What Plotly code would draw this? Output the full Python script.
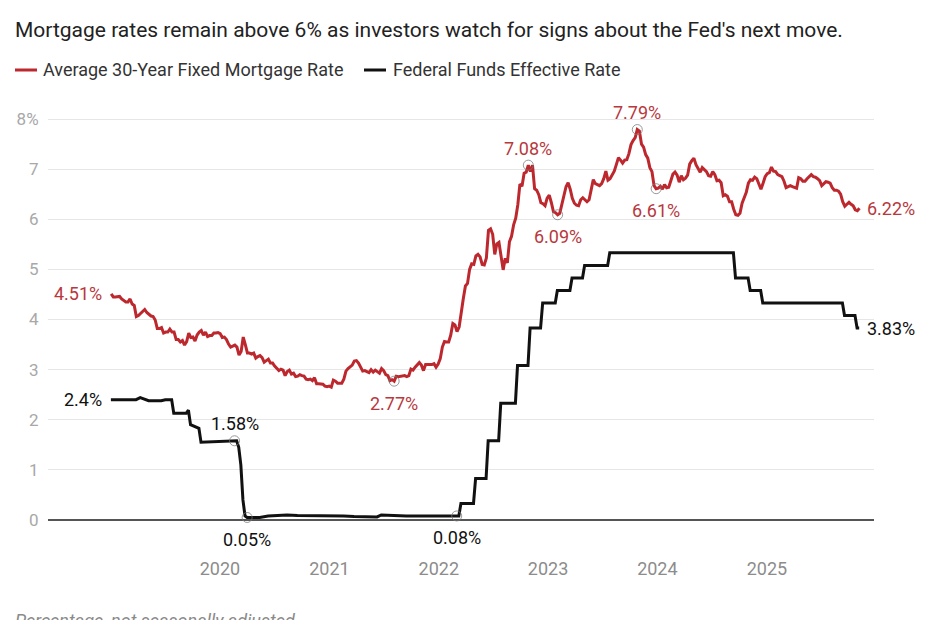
import pandas as pd
import plotly.graph_objects as go

# ---------------- DATA ----------------
# Average 30-Year Fixed Mortgage Rate, weekly (Thursdays), per year
mort_2019_start = "2019-01-03"
mort_2019 = [4.51, 4.45, 4.45, 4.45, 4.46, 4.41, 4.37, 4.35, 4.35, 4.41, 4.31, 4.28, 4.06,
             4.08, 4.12, 4.17, 4.20, 4.14, 4.10, 4.07, 4.06, 3.99, 3.82, 3.82, 3.84, 3.73,
             3.75, 3.75, 3.81, 3.75, 3.75, 3.60, 3.60, 3.55, 3.58, 3.49, 3.56, 3.73, 3.64,
             3.65, 3.57, 3.69, 3.75, 3.78, 3.69, 3.75, 3.66, 3.68, 3.68, 3.73, 3.73, 3.74]
mort_2020_start = "2020-01-02"
mort_2020 = [3.72, 3.64, 3.65, 3.60, 3.51, 3.45, 3.47, 3.49, 3.45, 3.29, 3.36, 3.65, 3.50,
             3.33, 3.33, 3.31, 3.33, 3.23, 3.26, 3.28, 3.24, 3.15, 3.18, 3.21, 3.13, 3.13,
             3.07, 3.03, 2.98, 3.01, 2.99, 2.88, 2.96, 2.99, 2.91, 2.93, 2.86, 2.87, 2.90,
             2.88, 2.87, 2.81, 2.80, 2.81, 2.78, 2.84, 2.72, 2.72, 2.71, 2.71, 2.67, 2.66, 2.67]
mort_2021_start = "2021-01-07"
mort_2021 = [2.65, 2.79, 2.77, 2.73, 2.73, 2.73, 2.81, 2.97, 3.02, 3.05, 3.09, 3.17,
             3.18, 3.13, 3.04, 2.97, 2.98, 2.96, 2.94, 3.00, 2.95, 2.99, 2.96, 2.93, 3.02,
             2.98, 2.90, 2.88, 2.78, 2.80, 2.77, 2.87, 2.86, 2.87, 2.87, 2.88, 2.86, 2.88, 3.01,
             2.99, 3.05, 3.09, 3.14, 3.09, 2.98, 3.10, 3.10, 3.11, 3.10, 3.12, 3.05, 3.11]
mort_2022_start = "2022-01-06"
mort_2022 = [3.22, 3.45, 3.56, 3.55, 3.55, 3.69, 3.92, 3.89, 3.76, 3.85, 4.16, 4.42, 4.67,
             4.72, 5.00, 5.11, 5.10, 5.27, 5.30, 5.25, 5.10, 5.09, 5.23, 5.78, 5.81, 5.70,
             5.30, 5.51, 5.54, 5.30, 4.99, 5.22, 5.13, 5.55, 5.66, 5.89, 6.02, 6.29, 6.70,
             6.66, 6.92, 6.94, 7.08, 6.95, 7.08, 6.61, 6.58, 6.49, 6.33, 6.31, 6.27, 6.42]
mort_2023_start = "2023-01-05"
mort_2023 = [6.48, 6.33, 6.15, 6.13, 6.09, 6.12, 6.32, 6.50, 6.65, 6.73, 6.60, 6.42, 6.32,
             6.28, 6.27, 6.39, 6.43, 6.39, 6.35, 6.39, 6.57, 6.79, 6.71, 6.69, 6.67, 6.71,
             6.81, 6.96, 6.78, 6.81, 6.90, 6.96, 7.09, 7.23, 7.18, 7.12, 7.18, 7.19, 7.31,
             7.49, 7.57, 7.63, 7.79, 7.76, 7.50, 7.44, 7.29, 7.22, 7.03, 6.95, 6.67, 6.61]
mort_2024_start = "2024-01-04"
mort_2024 = [6.62, 6.66, 6.60, 6.69, 6.63, 6.64, 6.77, 6.90, 6.94, 6.88, 6.74, 6.87, 6.79,
             6.82, 6.88, 7.10, 7.17, 7.22, 7.09, 7.02, 6.94, 7.03, 6.99, 6.95, 6.87, 6.86,
             6.95, 6.89, 6.77, 6.78, 6.73, 6.47, 6.49, 6.46, 6.35, 6.35, 6.20, 6.09, 6.08,
             6.12, 6.32, 6.44, 6.54, 6.72, 6.79, 6.78, 6.84, 6.81, 6.69, 6.60, 6.72, 6.85]
mort_2025_start = "2025-01-02"
mort_2025 = [6.91, 6.93, 7.04, 6.96, 6.95, 6.89, 6.87, 6.85, 6.76, 6.63, 6.65, 6.67, 6.65,
             6.64, 6.62, 6.83, 6.81, 6.76, 6.76, 6.81, 6.86, 6.89, 6.85, 6.84, 6.81, 6.77,
             6.67, 6.72, 6.75, 6.74, 6.72, 6.63, 6.58, 6.58, 6.56, 6.50, 6.35, 6.26, 6.30,
             6.34, 6.30, 6.27, 6.19, 6.17, 6.22]

# Federal Funds Effective Rate (weekly readings around each change)
fed_dates = ['2019-01-02', '2019-03-27', '2019-04-10', '2019-04-24', '2019-05-08', '2019-06-19', '2019-07-03', '2019-07-24', '2019-07-31',
             '2019-09-11', '2019-09-18', '2019-09-25', '2019-10-09', '2019-10-16', '2019-10-23', '2019-10-30',
             '2020-02-19', '2020-02-26', '2020-03-04', '2020-03-11', '2020-03-18', '2020-03-25', '2020-04-01',
             '2020-05-13', '2020-06-10', '2020-07-15', '2020-08-12', '2020-09-16', '2020-12-16',
             '2021-02-17', '2021-03-24', '2021-05-19', '2021-06-09', '2021-06-23', '2021-08-11', '2021-09-15',
             '2022-03-02', '2022-03-09', '2022-03-16', '2022-04-27', '2022-05-04', '2022-06-08', '2022-06-15', '2022-07-20', '2022-07-27',
             '2022-09-14', '2022-09-21', '2022-10-26', '2022-11-02', '2022-12-07', '2022-12-14', '2023-01-25', '2023-02-01',
             '2023-03-15', '2023-03-22', '2023-04-26', '2023-05-03', '2023-07-19', '2023-07-26',
             '2024-09-11', '2024-09-18', '2024-10-30', '2024-11-06', '2024-12-11', '2024-12-18',
             '2025-09-10', '2025-09-17', '2025-10-22', '2025-10-29', '2025-11-05']
fed_vals = [2.40, 2.40, 2.44, 2.41, 2.38, 2.38, 2.40, 2.40, 2.13,
            2.13, 2.19, 1.90, 1.87, 1.84, 1.83, 1.55,
            1.58, 1.58, 1.45, 1.10, 0.40, 0.08, 0.05,
            0.05, 0.08, 0.09, 0.10, 0.09, 0.09,
            0.08, 0.07, 0.06, 0.06, 0.10, 0.09, 0.08,
            0.08, 0.08, 0.33, 0.33, 0.83, 0.83, 1.58, 1.58, 2.33,
            2.33, 3.08, 3.08, 3.83, 3.83, 4.33, 4.33, 4.58,
            4.58, 4.83, 4.83, 5.08, 5.08, 5.33,
            5.33, 4.83, 4.83, 4.58, 4.58, 4.33,
            4.33, 4.08, 4.08, 3.83, 3.83]

# Labelled points: (date, text, placement)
mort_labels = [("2019-01-03", "4.51%", "left"), ("2021-08-05", "2.77%", "below"),
               ("2022-10-27", "7.08%", "above"), ("2023-02-02", "6.09%", "below"),
               ("2023-10-26", "7.79%", "above"), ("2023-12-28", "6.61%", "below"),
               ("2025-11-06", "6.22%", "right")]
fed_labels = [("2019-01-02", "2.4%", "left"), ("2020-02-19", "1.58%", "above"),
              ("2020-04-01", "0.05%", "below"), ("2022-03-02", "0.08%", "below"),
              ("2025-11-05", "3.83%", "right")]

year_ticks = ["2020-01-01", "2021-01-01", "2022-01-01", "2023-01-01", "2024-01-01", "2025-01-01"]
year_text = ["2020", "2021", "2022", "2023", "2024", "2025"]
y_ticks = [0, 1, 2, 3, 4, 5, 6, 7, 8]
y_text = ["0", "1", "2", "3", "4", "5", "6", "7", "8%"]

subtitle = "Mortgage rates remain above 6% as investors watch for signs about the Fed's next move."
name_mort = "Average 30-Year Fixed Mortgage Rate"
name_fed = "Federal Funds Effective Rate"
note = "Percentage, not seasonally adjusted"

# ---------------- BUILD ----------------
mort_dates, mort_vals = [], []
for start, vals in [(mort_2019_start, mort_2019), (mort_2020_start, mort_2020),
                    (mort_2021_start, mort_2021), (mort_2022_start, mort_2022),
                    (mort_2023_start, mort_2023), (mort_2024_start, mort_2024),
                    (mort_2025_start, mort_2025)]:
    mort_dates += list(pd.date_range(start=start, periods=len(vals), freq="7D"))
    mort_vals += vals
mort_lookup = {d.strftime("%Y-%m-%d"): v for d, v in zip(mort_dates, mort_vals)}
fed_lookup = dict(zip(fed_dates, fed_vals))

RED = "#bc282e"
RED_TXT = "#b8383d"
BLACK = "#111111"
FONT = "Roboto"

W, H = 930, 620
ML, MR, MT, MB = 48, 56, 104, 90
PW, PH = W - ML - MR, H - MT - MB


def px_x(p):
    return (p - ML) / PW


def px_y(p):
    return (H - MB - p) / PH


fig = go.Figure()
fig.add_trace(go.Scatter(x=mort_dates, y=mort_vals, mode="lines", name=name_mort,
                         line=dict(color=RED, width=3), showlegend=False, hoverinfo="skip"))
fig.add_trace(go.Scatter(x=pd.to_datetime(fed_dates), y=fed_vals, mode="lines", name=name_fed,
                         line=dict(color=BLACK, width=3), showlegend=False, hoverinfo="skip"))

annotations = []
circ_x, circ_y = [], []
for labels, lookup, col in [(mort_labels, mort_lookup, RED_TXT), (fed_labels, fed_lookup, BLACK)]:
    for d, txt, pos in labels:
        v = lookup[d]
        a = dict(x=d, y=v, xref="x", yref="y", text=txt, showarrow=False,
                 font=dict(family=FONT, size=18, color=col))
        if pos == "left":
            a.update(xanchor="right", yanchor="middle", xshift=-7)
        elif pos == "right":
            a.update(xanchor="left", yanchor="middle", xshift=6)
        elif pos == "above":
            a.update(xanchor="center", yanchor="middle", yshift=17)
            circ_x.append(d); circ_y.append(v)
        else:
            a.update(xanchor="center", yanchor="middle", yshift=-22)
            circ_x.append(d); circ_y.append(v)
        annotations.append(a)

fig.add_trace(go.Scatter(x=pd.to_datetime(circ_x), y=circ_y, mode="markers", showlegend=False,
                         hoverinfo="skip",
                         marker=dict(symbol="circle-open", size=10,
                                     color="rgba(120,120,120,0.75)", line=dict(width=1))))

# subtitle
annotations.append(dict(xref="paper", yref="paper", x=px_x(13), y=px_y(30), xanchor="left",
                        yanchor="middle", showarrow=False, text=subtitle,
                        font=dict(family=FONT, size=21, color="#222222")))
# legend texts
annotations.append(dict(xref="paper", yref="paper", x=px_x(41), y=px_y(70), xanchor="left",
                        yanchor="middle", showarrow=False, text=name_mort,
                        font=dict(family=FONT, size=18, color="#333333")))
annotations.append(dict(xref="paper", yref="paper", x=px_x(391), y=px_y(70), xanchor="left",
                        yanchor="middle", showarrow=False, text=name_fed,
                        font=dict(family=FONT, size=18, color="#333333")))
# footer note (cut by the bottom edge, as in the source image)
annotations.append(dict(xref="paper", yref="paper", x=px_x(13), y=px_y(608), xanchor="left",
                        yanchor="top", showarrow=False, text="<i>" + note + "</i>",
                        font=dict(family=FONT, size=18, color="#8a8a8a")))

shapes = [
    dict(type="line", xref="paper", yref="paper", x0=px_x(15), x1=px_x(37), y0=px_y(70), y1=px_y(70),
         line=dict(color=RED, width=3)),
    dict(type="line", xref="paper", yref="paper", x0=px_x(364), x1=px_x(386), y0=px_y(70), y1=px_y(70),
         line=dict(color=BLACK, width=3)),
]

fig.update_layout(
    width=W, height=H,
    margin=dict(l=ML, r=MR, t=MT, b=MB, autoexpand=False),
    paper_bgcolor="white", plot_bgcolor="white",
    font=dict(family=FONT),
    annotations=annotations, shapes=shapes,
    xaxis=dict(range=["2018-06-06", "2025-12-24 12:00"], showgrid=False, zeroline=False,
               showline=False, tickmode="array", tickvals=year_ticks, ticktext=year_text,
               ticks="outside", ticklen=22, tickcolor="rgba(0,0,0,0)",
               tickfont=dict(family=FONT, size=18, color="#8c8c8c")),
    yaxis=dict(range=[-0.2, 8.3], tickmode="array", tickvals=y_ticks, ticktext=y_text,
               showgrid=True, gridcolor="#e6e6e6", gridwidth=1,
               zeroline=True, zerolinecolor="#555555", zerolinewidth=2, showline=False,
               ticks="outside", ticklen=5, tickcolor="rgba(0,0,0,0)",
               tickfont=dict(family=FONT, size=17, color="#a8a8a8")),
)

fig.write_html("out.html", config={"displayModeBar": False},
               post_script="document.body.style.margin='0px';")
